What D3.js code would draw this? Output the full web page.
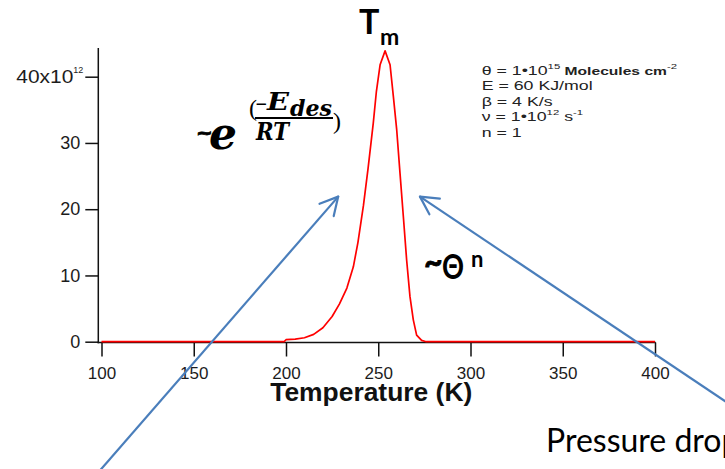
<!DOCTYPE html>
<html><head><meta charset="utf-8">
<script src="https://cdn.jsdelivr.net/npm/d3@7"></script>
<style>body{margin:0;background:#fff;} svg{display:block;}</style>
</head><body><svg id="c" width="725" height="469"></svg>
<script>
// ---- data (rate in units of 10^12) ----
const temperatures = [100, 199, 200, 205, 210, 215, 220, 225, 229, 233, 236.5, 239, 242, 244.5, 247.3, 249, 251, 253.7, 256.4, 258.2, 260, 261.8, 263.6, 265.4, 267.2, 269, 270.8, 273.5, 276, 400];
const desorptionRate = [0, 0, 0.3, 0.4, 0.6, 1.1, 2.1, 3.8, 5.7, 8.1, 11.3, 15.0, 20.6, 26.2, 33.0, 37.8, 41.8, 43.9, 41.8, 37.0, 32.0, 25.4, 18.9, 12.3, 6.8, 3.3, 1.0, 0.2, 0, 0];
const xTicks = [100, 150, 200, 250, 300, 350, 400];
const xTickLabels = ["100", "150", "200", "250", "300", "350", "400"];
const yTicks = [0, 10, 20, 30, 40];
const yTickLabels = ["0", "10", "20", "30", "40x10"];
const xTitle = "Temperature (K)";
// annotation arrows (in data units: temperature, rate)
const arrowStartT = [94.6, 456.9];
const arrowStartRate = [-20.9, -12.5];
const arrowTipT = [228.3, 272.6];
const arrowTipRate = [21.9, 21.9];
// parameter box lines: [text, kind] kind 0 normal, 1 superscript, 2 small
const paramLines = [
  [["θ = 1•10", 0], ["15", 1], [" Molecules cm", 2], ["-2", 1]],
  [["E = 60 KJ/mol", 0]],
  [["β = 4 K/s", 0]],
  [["ν = 1•10", 0], ["12", 1], ["  s", 0], ["-1", 1]],
  [["n = 1", 0]]
];

const svg = d3.select("#c");
svg.append("rect").attr("width", 725).attr("height", 469).attr("fill", "#fff");

const x = d3.scaleLinear().domain([100, 400]).range([101.5, 655]);
const y = d3.scaleLinear().domain([0, 40]).range([341.7, 76.7]);
const axisColor = "#111";
const tickTextColor = "#1c1c1c";
const sans = "Liberation Sans, Arial, sans-serif";

// x axis
const gx = svg.append("g").attr("transform", "translate(0,342.5)")
  .call(d3.axisBottom(x).tickValues(xTicks).tickFormat((d, i) => xTickLabels[i]).tickSize(14).tickPadding(10).tickSizeOuter(0));
gx.select(".domain").remove();
gx.selectAll(".tick line").attr("stroke", axisColor).attr("stroke-width", 1.5);
gx.selectAll(".tick text").attr("fill", tickTextColor).attr("font-family", sans).attr("font-size", 17);
svg.append("line").attr("x1", 97.5).attr("x2", x(400) + 0.75).attr("y1", 342.5).attr("y2", 342.5)
  .attr("stroke", axisColor).attr("stroke-width", 1.5);

// y axis
const gy = svg.append("g").attr("transform", "translate(98.3,0)")
  .call(d3.axisLeft(y).tickValues(yTicks).tickFormat((d, i) => yTickLabels[i]).tickSize(13).tickPadding(5).tickSizeOuter(0));
gy.select(".domain").remove();
gy.selectAll(".tick line").attr("stroke", axisColor).attr("stroke-width", 1.5);
gy.selectAll(".tick text").attr("fill", tickTextColor).attr("font-family", sans).attr("font-size", 18);
gy.selectAll(".tick text").filter(d => d === 40).each(function () {
  d3.select(this).attr("x", -25).attr("textLength", 57).attr("lengthAdjust", "spacingAndGlyphs");
  d3.select(this.parentNode).append("text").attr("x", -25).attr("dy", "0.32em").attr("y", -7.5)
    .attr("font-family", sans).attr("font-size", 9)
    .attr("fill", tickTextColor).attr("text-anchor", "start").text("12");
});
svg.append("line").attr("x1", 98.3).attr("x2", 98.3).attr("y1", 48).attr("y2", 343.2)
  .attr("stroke", axisColor).attr("stroke-width", 1.5);

// x title
svg.append("text").attr("x", (x(100) + x(400)) / 2 - 7).attr("y", 401)
  .attr("text-anchor", "middle").attr("font-family", sans)
  .attr("font-weight", "bold").attr("font-size", 25.5).attr("fill", "#111")
  .attr("textLength", 202).attr("lengthAdjust", "spacingAndGlyphs").text(xTitle);

// desorption curve
const pts = temperatures.map((t, i) => ({ t, r: desorptionRate[i] }));
svg.append("path").datum(pts)
  .attr("d", d3.line().x(d => x(d.t)).y(d => y(d.r)))
  .attr("fill", "none").attr("stroke", "#ff0000").attr("stroke-width", 1.7).attr("stroke-linejoin", "round");

// parameter text
const pg = svg.append("g").attr("transform", "translate(481.7,0) scale(1.42,1)")
  .attr("font-family", sans).attr("fill", "#222");
paramLines.forEach((segs, i) => {
  const t = pg.append("text").attr("x", 0).attr("y", 75 + i * 15.5).attr("font-size", 12.5);
  let raised = false;
  segs.forEach(([s, kind]) => {
    const sp = t.append("tspan").text(s);
    if (kind === 1) { sp.attr("font-size", 8).attr("dy", -6); raised = true; }
    else {
      if (raised) { sp.attr("dy", 6); raised = false; }
      if (kind === 2) sp.attr("font-size", 11).attr("font-weight", "bold");
    }
  });
});

// arrows
const blue = "#4a7ebb";
arrowStartT.forEach((_, i) => {
  const x0 = x(arrowStartT[i]), y0 = y(arrowStartRate[i]);
  const x1 = x(arrowTipT[i]), y1 = y(arrowTipRate[i]);
  svg.append("line").attr("x1", x0).attr("y1", y0).attr("x2", x1).attr("y2", y1)
    .attr("stroke", blue).attr("stroke-width", 2.2);
  const ang = Math.atan2(y0 - y1, x0 - x1);
  const L = 20, a = 28 * Math.PI / 180;
  [ang - a, ang + a].forEach(w => {
    svg.append("line").attr("x1", x1).attr("y1", y1)
      .attr("x2", x1 + L * Math.cos(w)).attr("y2", y1 + L * Math.sin(w))
      .attr("stroke", blue).attr("stroke-width", 2.2).attr("stroke-linecap", "round");
  });
});

// T_m
svg.append("text").attr("x", 359).attr("y", 33.5).attr("font-family", "Lato, sans-serif")
  .attr("font-weight", "bold").attr("font-size", 34).attr("fill", "#000").text("T");
svg.append("text").attr("x", 380).attr("y", 45).attr("font-family", "Lato, sans-serif")
  .attr("font-weight", "bold").attr("font-size", 23).attr("fill", "#000").text("m");

// ~e^(-E_des/RT)
const mathFont = "DejaVu Serif, serif";
svg.append("text").attr("x", 196).attr("y", 139).attr("font-family", "DejaVu Sans, sans-serif")
  .attr("font-weight", "bold").attr("font-size", 20).attr("fill", "#000")
  .attr("stroke", "#000").attr("stroke-width", 0.8).text("~");
svg.append("text").attr("x", 209).attr("y", 149).attr("font-family", mathFont)
  .attr("font-weight", "bold").attr("font-style", "italic").attr("font-size", 44).attr("fill", "#000")
  .attr("textLength", 28).attr("lengthAdjust", "spacingAndGlyphs").text("e");
svg.append("text").attr("x", 249).attr("y", 116).attr("font-family", "Liberation Serif, serif")
  .attr("font-size", 24).attr("fill", "#000").text("(");
svg.append("text").attr("x", 255).attr("y", 109).attr("font-family", mathFont)
  .attr("font-weight", "bold").attr("font-size", 15).attr("fill", "#000").text("−");
svg.append("text").attr("x", 267).attr("y", 110).attr("font-family", mathFont)
  .attr("font-weight", "bold").attr("font-style", "italic").attr("font-size", 24).attr("fill", "#000")
  .attr("textLength", 22).attr("lengthAdjust", "spacingAndGlyphs").text("E");
svg.append("text").attr("x", 290).attr("y", 116).attr("font-family", mathFont)
  .attr("font-weight", "bold").attr("font-style", "italic").attr("font-size", 22).attr("fill", "#000")
  .attr("textLength", 42).attr("lengthAdjust", "spacingAndGlyphs").text("des");
svg.append("line").attr("x1", 255).attr("x2", 333).attr("y1", 118).attr("y2", 118)
  .attr("stroke", "#000").attr("stroke-width", 2);
svg.append("text").attr("x", 256).attr("y", 140).attr("font-family", mathFont)
  .attr("font-weight", "bold").attr("font-style", "italic").attr("font-size", 25).attr("fill", "#000")
  .attr("textLength", 33).attr("lengthAdjust", "spacingAndGlyphs").text("RT");
svg.append("text").attr("x", 333).attr("y", 129).attr("font-family", "Liberation Serif, serif")
  .attr("font-size", 24).attr("fill", "#000").text(")");

// ~Θ^n
svg.append("text").attr("x", 424).attr("y", 273).attr("font-family", "Lato, sans-serif")
  .attr("font-weight", "bold").attr("font-size", 32).attr("fill", "#000")
  .attr("stroke", "#000").attr("stroke-width", 0.8).text("~");
svg.append("text").attr("x", 442).attr("y", 278.5).attr("font-family", "Lato, sans-serif")
  .attr("font-weight", "bold").attr("font-size", 34).attr("fill", "#000")
  .attr("textLength", 22).attr("lengthAdjust", "spacingAndGlyphs").text("Θ");
svg.append("text").attr("x", 471).attr("y", 267).attr("font-family", "Lato, sans-serif")
  .attr("font-weight", "bold").attr("font-size", 22).attr("fill", "#000").text("n");

// Pressure drop caption (clipped at the right edge like the reference)
svg.append("text").attr("x", 546).attr("y", 452).attr("font-family", "Lato, sans-serif")
  .attr("font-size", 32).attr("fill", "#000").text("Pressure drop");
</script></body></html>
